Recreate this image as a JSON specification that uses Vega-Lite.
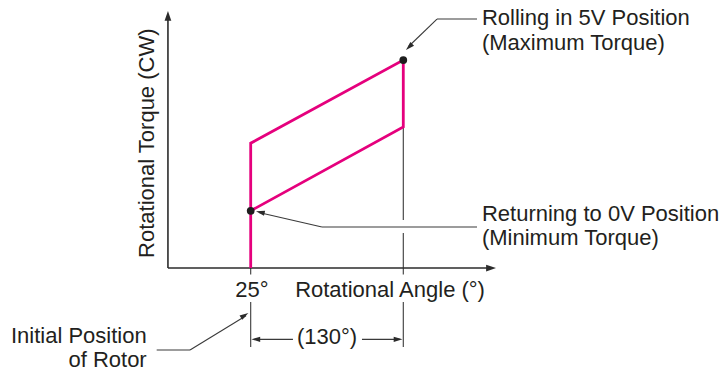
{
  "$schema": "https://vega.github.io/schema/vega-lite/v6.json",
  "width": 721,
  "height": 373,
  "autosize": {"type": "fit", "contains": "padding"},
  "padding": 0,
  "background": "white",
  "config": {"view": {"stroke": null}},
  "datasets": {
    "loop": [
      {"angle": 25, "torque": 0, "step": 1},
      {"angle": 25, "torque": 60, "step": 2},
      {"angle": 155, "torque": 100, "step": 3},
      {"angle": 155, "torque": 67.8, "step": 4},
      {"angle": 25, "torque": 27.5, "step": 5}
    ],
    "segs": [
      {"kind": "axis", "angle": -45.5, "torque": 0, "angle2": -45.5, "torque2": 120},
      {"kind": "axis", "angle": -45.5, "torque": 0, "angle2": 228, "torque2": 0},
      {"kind": "guide", "angle": 155, "torque": 67.8, "angle2": 155, "torque2": 23.1},
      {"kind": "guide", "angle": 155, "torque": 16.8, "angle2": 155, "torque2": -3.1},
      {"kind": "guide", "angle": 25, "torque": 0, "angle2": 25, "torque2": -3.1},
      {"kind": "guide", "angle": 25, "torque": -16.3, "angle2": 25, "torque2": -38},
      {"kind": "guide", "angle": 155, "torque": -16.3, "angle2": 155, "torque2": -38},
      {"kind": "guide", "angle": 28, "torque": -34.3, "angle2": 61, "torque2": -34.3},
      {"kind": "guide", "angle": 119.8, "torque": -34.3, "angle2": 152, "torque2": -34.3},
      {"kind": "guide", "angle": 217.8, "torque": 119.7, "angle2": 183.7, "torque2": 119.7},
      {"kind": "guide", "angle": 183.7, "torque": 119.7, "angle2": 159.5, "torque2": 106.5},
      {"kind": "guide", "angle": 217.8, "torque": 19.7, "angle2": 85.7, "torque2": 19.7},
      {"kind": "guide", "angle": 85.7, "torque": 19.7, "angle2": 32, "torque2": 26.7},
      {"kind": "guide", "angle": -55.1, "torque": -39.4, "angle2": -26.7, "torque2": -39.4},
      {"kind": "guide", "angle": -26.7, "torque": -39.4, "angle2": 21, "torque2": -23}
    ],
    "dots": [
      {"angle": 155, "torque": 100, "state": "Maximum Torque"},
      {"angle": 25, "torque": 27.5, "state": "Minimum Torque"}
    ],
    "heads": [
      {"kind": "axis", "angle": -45.5, "torque": 123.6, "heading": 0},
      {"kind": "axis", "angle": 234, "torque": 0, "heading": 90},
      {"kind": "note", "angle": 157.3, "torque": 104.8, "heading": 225},
      {"kind": "note", "angle": 29.5, "torque": 27.3, "heading": 283},
      {"kind": "note", "angle": 23, "torque": -21.6, "heading": 57.6},
      {"kind": "note", "angle": 25.6, "torque": -34.3, "heading": 270},
      {"kind": "note", "angle": 154.3, "torque": -34.3, "heading": 90}
    ],
    "labels": [
      {"kind": "center", "angle": 26.1, "torque": -13.9, "text": "25°"},
      {"kind": "center", "angle": 143.7, "torque": -13.9, "text": "Rotational Angle (°)"},
      {"kind": "center", "angle": 90, "torque": -36.5, "text": "(130°)"},
      {"kind": "right", "angle": -63.6, "torque": -36.1, "text": "Initial Position"},
      {"kind": "right", "angle": -63.6, "torque": -47.6, "text": "of Rotor"},
      {"kind": "left", "angle": 222, "torque": 116.8, "text": "Rolling in 5V Position"},
      {"kind": "left", "angle": 222, "torque": 104.8, "text": "(Maximum Torque)"},
      {"kind": "left", "angle": 222, "torque": 22.6, "text": "Returning to 0V Position"},
      {"kind": "left", "angle": 222, "torque": 11.1, "text": "(Minimum Torque)"},
      {"kind": "vertical", "angle": -57.4, "torque": 60, "text": "Rotational Torque (CW)"}
    ]
  },
  "encoding": {
    "x": {"field": "angle", "type": "quantitative", "axis": null, "scale": {"domain": [-188.58, 425.67], "nice": false, "zero": false}},
    "y": {"field": "torque", "type": "quantitative", "axis": null, "scale": {"domain": [-50.48, 128.85], "nice": false, "zero": false}}
  },
  "layer": [
    {
      "data": {"name": "segs"},
      "transform": [{"filter": "datum.kind == 'guide'"}],
      "mark": {"type": "rule", "color": "#3a3a3a", "strokeWidth": 1.1},
      "encoding": {"x2": {"field": "angle2"}, "y2": {"field": "torque2"}}
    },
    {
      "data": {"name": "segs"},
      "transform": [{"filter": "datum.kind == 'axis'"}],
      "mark": {"type": "rule", "color": "#2b2b2b", "strokeWidth": 1.6},
      "encoding": {"x2": {"field": "angle2"}, "y2": {"field": "torque2"}}
    },
    {
      "data": {"name": "loop"},
      "mark": {"type": "line", "color": "#e5007d", "strokeWidth": 2.8, "strokeJoin": "miter", "strokeCap": "butt"},
      "encoding": {"order": {"field": "step", "type": "ordinal"}}
    },
    {
      "data": {"name": "dots"},
      "mark": {"type": "point", "shape": "circle", "filled": true, "color": "#1e1e1e", "size": 60, "opacity": 1}
    },
    {
      "data": {"name": "heads"},
      "transform": [{"filter": "datum.kind == 'axis'"}],
      "mark": {"type": "point", "shape": "M0,0L0.75,2.2L-0.75,2.2Z", "filled": true, "color": "#2b2b2b", "size": 81, "opacity": 1},
      "encoding": {"angle": {"field": "heading", "type": "quantitative", "scale": null}}
    },
    {
      "data": {"name": "heads"},
      "transform": [{"filter": "datum.kind == 'note'"}],
      "mark": {"type": "point", "shape": "M0,0L0.65,2.2L-0.65,2.2Z", "filled": true, "color": "#2b2b2b", "size": 64, "opacity": 1},
      "encoding": {"angle": {"field": "heading", "type": "quantitative", "scale": null}}
    },
    {
      "data": {"name": "labels"},
      "transform": [{"filter": "datum.kind == 'center'"}],
      "mark": {"type": "text", "align": "center", "baseline": "alphabetic", "font": "Liberation Sans", "fontSize": 22, "color": "#231f20"},
      "encoding": {"text": {"field": "text"}}
    },
    {
      "data": {"name": "labels"},
      "transform": [{"filter": "datum.kind == 'right'"}],
      "mark": {"type": "text", "align": "right", "baseline": "alphabetic", "font": "Liberation Sans", "fontSize": 22, "color": "#231f20"},
      "encoding": {"text": {"field": "text"}}
    },
    {
      "data": {"name": "labels"},
      "transform": [{"filter": "datum.kind == 'left'"}],
      "mark": {"type": "text", "align": "left", "baseline": "alphabetic", "font": "Liberation Sans", "fontSize": 22, "color": "#231f20"},
      "encoding": {"text": {"field": "text"}}
    },
    {
      "data": {"name": "labels"},
      "transform": [{"filter": "datum.kind == 'vertical'"}],
      "mark": {"type": "text", "align": "center", "baseline": "alphabetic", "angle": 270, "font": "Liberation Sans", "fontSize": 22, "color": "#231f20"},
      "encoding": {"text": {"field": "text"}}
    }
  ]
}
